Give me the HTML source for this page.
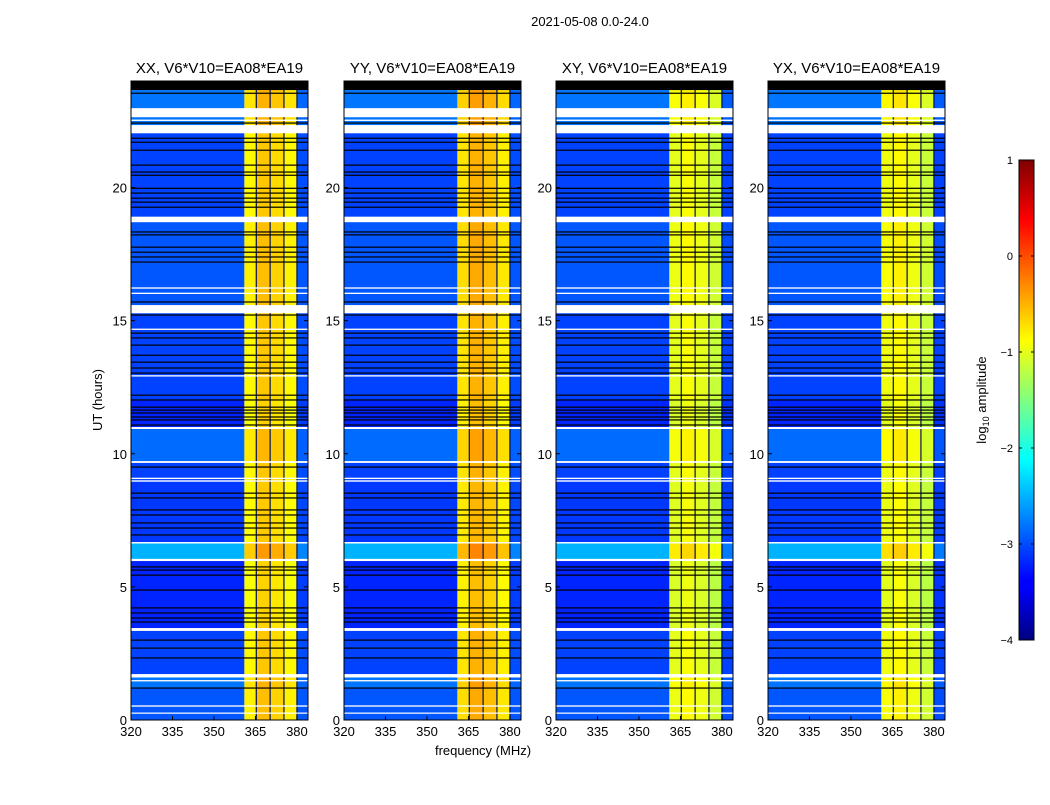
<!DOCTYPE html>
<html><head><meta charset="utf-8"><style>
body{margin:0;background:#fff;}
svg text{font-family:"Liberation Sans",sans-serif;}
</style></head><body>
<svg id="fig" width="1050" height="800" xmlns="http://www.w3.org/2000/svg">
<defs>
<linearGradient id="jet" x1="0" y1="1" x2="0" y2="0">
<stop offset="0" stop-color="#00007f"/><stop offset="0.11" stop-color="#0000ff"/><stop offset="0.125" stop-color="#0000ff"/>
<stop offset="0.375" stop-color="#00ffff"/><stop offset="0.5" stop-color="#80ff80"/><stop offset="0.625" stop-color="#ffff00"/>
<stop offset="0.875" stop-color="#ff0000"/><stop offset="1" stop-color="#7f0000"/>
</linearGradient>
</defs>
<text x="590" y="26" font-size="13" text-anchor="middle">2021-05-08 0.0-24.0</text>
</svg>
<script>
const panelNames=["XX","YY","XY","YX"];
const freqTicks=[320,335,350,365,380];
const hourTicks=[0,5,10,15,20];
const baseBands=[[0,1.2,-2.95],[1.2,1.6,-2.8],[1.72,3.35,-3.05],[3.45,6.0,-3.2],[6.05,6.63,-2.5],[6.68,9.0,-3.1],[9.0,9.66,-3.05],[9.72,10.93,-2.85],[11.0,12.0,-3.2],[12.0,15.28,-3.05],[15.58,18.7,-2.95],[18.9,22.04,-3.05],[22.34,23.66,-2.8]];
const stripEdges=[[320,361],[361,365.2],[365.4,370.2],[370.4,375.2],[375.4,380],[380,384]];
const stripLevelsXX=[0,-0.85,-0.6,-0.7,-0.85,-3.0];
const stripLevelsYY=[0,-0.75,-0.5,-0.6,-0.8,-3.0];
const stripLevelsXY=[0,-1.0,-0.9,-1.0,-1.15,-3.05];
const stripLevelsYX=[0,-0.95,-0.85,-1.0,-1.15,-3.05];
const stripSets=[stripLevelsXX,stripLevelsYY,stripLevelsXY,stripLevelsYX];
const blackLines=[23.54,22.42,21.85,21.70,21.40,20.84,20.58,20.46,19.97,19.79,19.60,19.45,19.26,18.33,18.22,17.76,17.57,17.39,17.20,15.70,15.21,14.53,14.35,14.08,13.70,13.44,13.22,13.03,12.20,12.02,11.75,11.64,11.53,11.38,11.27,11.08,9.50,8.52,8.34,7.89,7.70,7.40,7.21,6.95,5.75,5.63,5.44,4.88,4.21,4.02,3.83,3.68,3.00,2.70,2.33,1.20];
const whiteRows=[[22.64,22.98],[22.04,22.34],[22.5,22.55],[18.7,18.9],[15.28,15.58],[10.93,11.0],[9.66,9.72],[8.95,9.0],[9.05,9.1],[6.63,6.68],[5.97,6.05],[3.35,3.45],[1.6,1.72],[1.45,1.5],[0.5,0.55],[0.25,0.28],[16.2,16.25],[16.0,16.05],[14.65,14.7],[12.9,12.95]];
const blackTop=[23.66,24];
const chanLines=[365.3,370.3,375.3,380];
const cbarTicks=[1,0,-1,-2,-3,-4];
const cbarLabels=["1","0","\u22121","\u22122","\u22123","\u22124"];

function jet(v){let t=(v+4)/5;t=Math.max(0,Math.min(1,t));
 const r=Math.max(0,Math.min(1,1.5-Math.abs(4*t-3))),g=Math.max(0,Math.min(1,1.5-Math.abs(4*t-2))),b=Math.max(0,Math.min(1,1.5-Math.abs(4*t-1)));
 return `rgb(${Math.round(r*255)},${Math.round(g*255)},${Math.round(b*255)})`;}
const svg=document.getElementById('fig');const NS="http://www.w3.org/2000/svg";
function el(tag,attrs,parent){const e=document.createElementNS(NS,tag);for(const k in attrs)e.setAttribute(k,attrs[k]);(parent||svg).appendChild(e);return e;}
const panelX=[131,344,556,768],PW=177,PT=81,PB=720;
const fx=(f,x0)=>x0+(f-320)*(PW/64);
const hy=h=>PB-h*(PB-PT)/24;
panelNames.forEach((nm,p)=>{
 const x0=panelX[p];const g=el('g',{});
 
 
 const strips=stripSets[p];
 baseBands.forEach(b=>{stripEdges.forEach((s,i)=>{
  const lv=i===0?b[2]:(i===5?strips[5]+(b[2]+3.05)*0.5:strips[i]+(b[2]+3.05)*0.4);
  const r=el('rect',{x:fx(s[0],x0),y:hy(b[1]),width:fx(s[1],x0)-fx(s[0],x0),height:hy(b[0])-hy(b[1]),fill:jet(lv)},g);
  
  
 });});
 chanLines.forEach(f=>{const r=el('rect',{x:fx(f,x0)-0.6,y:PT,width:1.2,height:PB-PT,fill:'#001060'},g);
  
  });
 blackLines.forEach(h=>{const r=el('rect',{x:x0,y:hy(h)-0.6,width:PW,height:1.2,fill:'#000'},g);
  
  });
 whiteRows.forEach(w=>{const r=el('rect',{x:x0,y:hy(w[1]),width:PW,height:Math.max(1.2,hy(w[0])-hy(w[1])),fill:'#fff'},g);
  
  });
 const tb=el('rect',{x:x0,y:hy(blackTop[1]),width:PW,height:hy(blackTop[0])-hy(blackTop[1]),fill:'#000'},g);
 
 
 const fr=el('rect',{x:x0,y:PT,width:PW,height:PB-PT,fill:'none',stroke:'#000','stroke-width':1},g);
 
 
 freqTicks.forEach(f=>{const x=fx(f,x0);
  el('line',{x1:x,x2:x,y1:PB,y2:PB-4,stroke:'#000'},g);el('line',{x1:x,x2:x,y1:PT,y2:PT+4,stroke:'#000'},g);
  const t=el('text',{x:x,y:PB+16,'font-size':13,'text-anchor':'middle'},g);t.textContent=f;
  
  });
 hourTicks.forEach(h=>{const y=hy(h);
  el('line',{x1:x0,x2:x0+4,y1:y,y2:y,stroke:'#000'},g);el('line',{x1:x0+PW,x2:x0+PW-4,y1:y,y2:y,stroke:'#000'},g);
  const t=el('text',{x:x0-4,y:y+5,'font-size':13,'text-anchor':'end'},g);t.textContent=h;
  
  });
 const tt=el('text',{x:x0+PW/2,y:73,'font-size':15,'text-anchor':'middle'},g);tt.textContent=nm+', V6*V10=EA08*EA19';
 
 
});
const yl=el('text',{x:102,y:400,'font-size':13,'text-anchor':'middle',transform:'rotate(-90 102 400)'});yl.textContent='UT (hours)';


const xl=el('text',{x:483,y:755,'font-size':13,'text-anchor':'middle'});xl.textContent='frequency (MHz)';


const cb=el('rect',{x:1019,y:160,width:15,height:480,fill:'url(#jet)',stroke:'#000'});


const cy=v=>160+(1-v)*96;
cbarTicks.forEach((v,i)=>{const y=cy(v);el('line',{x1:1019,x2:1022,y1:y,y2:y,stroke:'#000'});el('line',{x1:1034,x2:1031,y1:y,y2:y,stroke:'#000'});
 const t=el('text',{x:1013,y:y+4,'font-size':11,'text-anchor':'end'});t.textContent=cbarLabels[i];
 
 });
const cl=el('text',{x:986,y:400,'font-size':13,'text-anchor':'middle',transform:'rotate(-90 986 400)'});
cl.innerHTML='log<tspan font-size="9" dy="3">10</tspan><tspan dy="-3"> amplitude</tspan>';


</script>
</body></html>
